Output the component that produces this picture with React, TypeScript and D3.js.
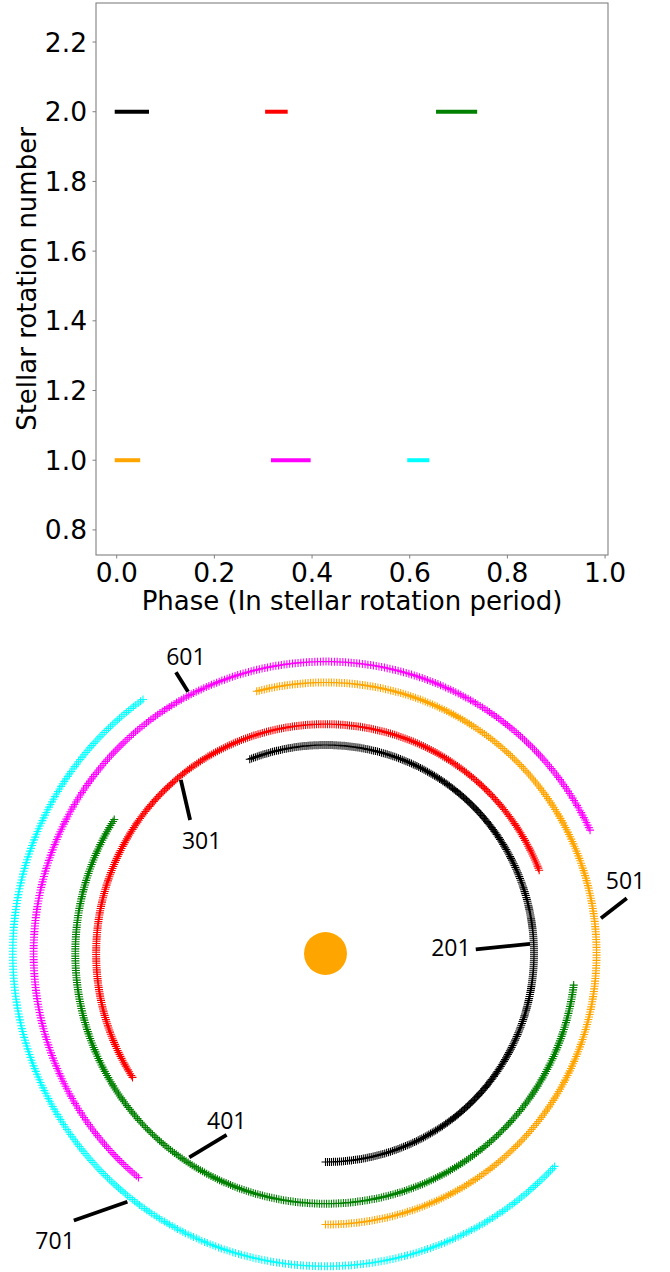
import React from "react";
import * as d3 from "d3";

const W = 670;
const H = 1272;

// ---------- top chart data ----------
const segRotation = [2, 2, 2, 1, 1, 1];
const segColors = ["black", "red", "green", "orange", "magenta", "cyan"];
const segStart = [0, 0.308, 0.658, 0, 0.32, 0.599];
const segEnd = [0.062, 0.346, 0.734, 0.044, 0.393, 0.636];
const xTicks = [0, 0.2, 0.4, 0.6, 0.8, 1.0];
const yTicks = [0.8, 1.0, 1.2, 1.4, 1.6, 1.8, 2.0, 2.2];

// ---------- polar chart data (theta in degrees, from south, counter-clockwise) ----------
const orbitLabels = ["201", "301", "401", "501", "601", "701"];
const orbitColors = ["black", "red", "green", "orange", "magenta", "cyan"];
const orbitRadius = [1.0, 1.1, 1.2, 1.3, 1.4, 1.5];
const arcStart = [0, 111.3, 237.6, 0, 115.0, 215.7];
const arcEnd = [201.5, 302.9, 443.0, 194.8, 320.6, 407.1];
const markerStep = 0.55;
const labelTheta = [92.6, 227.6, 329.5, 103.7, 205.2, 316.75];
const labelR = [0.602, 0.804, 0.933, 1.481, 1.572, 1.893];
const tailTheta = [91.6, 225.4, 331.4, 100.4, 208.0, 316.7];
const tailR = [0.721, 0.912, 0.991, 1.469, 1.528, 1.76];
const headTheta = [92.7, 219.8, 326.25, 97.3, 207.7, 321.4];
const headR = [0.982, 1.084, 1.176, 1.332, 1.418, 1.523];
const starR = 0.103;

const TOP_FONT = "'DejaVu Sans', sans-serif";
const POLAR_FONT = "'Open Sans', 'Noto Sans', sans-serif";

export default function App() {
  // top chart scales
  const x = d3.scaleLinear().domain([-0.0424, 1.006]).range([96, 608]);
  const y = d3.scaleLinear().domain([0.728, 2.312]).range([555, 3]);
  const fmt = d3.format(".1f");

  // polar scales
  const cx = 325.5;
  const cy = 953.5;
  const r = d3.scaleLinear().domain([0, 1.5]).range([0, 312.75]);
  const toRad = (deg: number) => (deg * Math.PI) / 180;
  const pt = (thetaDeg: number, rv: number) => {
    const [px, py] = d3.pointRadial(Math.PI - toRad(thetaDeg), r(rv));
    return [cx + px, cy + py];
  };

  const plusPath = (i: number) => {
    const thetas = d3.range(arcStart[i], arcEnd[i] + 1e-9, markerStep);
    const a = 4;
    return thetas
      .map((t) => {
        const [px, py] = pt(t, orbitRadius[i]);
        return `M${px - a},${py}h${2 * a}M${px},${py - a}v${2 * a}`;
      })
      .join("");
  };

  const [x0, x1] = x.range();
  const [yb, yt] = y.range();

  return (
    <div>
      <style>{`body{margin:0;background:#fff}`}</style>
      <svg width={W} height={H} viewBox={`0 0 ${W} ${H}`} style={{ display: "block" }}>
        <rect x={0} y={0} width={W} height={H} fill="white" />
        {/* ---------- top chart ---------- */}
        <g>
          {segColors.map((c, i) => (
            <line
              key={i}
              x1={x(segStart[i])}
              x2={x(segEnd[i])}
              y1={y(segRotation[i])}
              y2={y(segRotation[i])}
              stroke={c}
              strokeWidth={4}
              strokeLinecap="square"
            />
          ))}
          <rect x={x0} y={yt} width={x1 - x0} height={yb - yt} fill="none" stroke="#808080" strokeWidth={1.1} />
          {xTicks.map((t) => (
            <g key={"x" + t}>
              <line x1={x(t)} x2={x(t)} y1={yb} y2={yb + 3.5} stroke="#808080" strokeWidth={1} />
              <text
                x={x(t)}
                y={582}
                textAnchor="middle"
                fontFamily={TOP_FONT}
                fontSize={26.5}
                fill="black"
              >
                {fmt(t)}
              </text>
            </g>
          ))}
          {yTicks.map((t) => (
            <g key={"y" + t}>
              <line x1={x0 - 3.5} x2={x0} y1={y(t)} y2={y(t)} stroke="#808080" strokeWidth={1} />
              <text
                x={87}
                y={y(t) + 9.5}
                textAnchor="end"
                fontFamily={TOP_FONT}
                fontSize={26.5}
                fill="black"
              >
                {fmt(t)}
              </text>
            </g>
          ))}
          <text
            x={(x0 + x1) / 2}
            y={610}
            textAnchor="middle"
            fontFamily={TOP_FONT}
            fontSize={26}
            fill="black"
          >
            Phase (In stellar rotation period)
          </text>
          <text
            transform={`translate(36,${(yb + yt) / 2}) rotate(-90)`}
            textAnchor="middle"
            fontFamily={TOP_FONT}
            fontSize={26}
            fill="black"
          >
            Stellar rotation number
          </text>
        </g>

        {/* ---------- polar chart ---------- */}
        <g>
          <circle cx={cx} cy={cy} r={r(starR)} fill="orange" />
          {orbitColors.map((c, i) => (
            <path key={"arc" + i} d={plusPath(i)} stroke={c} strokeWidth={1.1} fill="none" />
          ))}
          {orbitLabels.map((lab, i) => {
            const [tx, ty] = pt(labelTheta[i], labelR[i]);
            const [ax, ay] = pt(tailTheta[i], tailR[i]);
            const [hx, hy] = pt(headTheta[i], headR[i]);
            return (
              <g key={"lab" + i}>
                <line x1={ax} y1={ay} x2={hx} y2={hy} stroke="black" strokeWidth={3.8} />
                <text
                  x={tx}
                  y={ty}
                  dy="0.36em"
                  textAnchor="middle"
                  fontFamily={POLAR_FONT}
                  fontSize={23}
                  fill="black"
                >
                  {lab}
                </text>
              </g>
            );
          })}
        </g>
      </svg>
    </div>
  );
}
